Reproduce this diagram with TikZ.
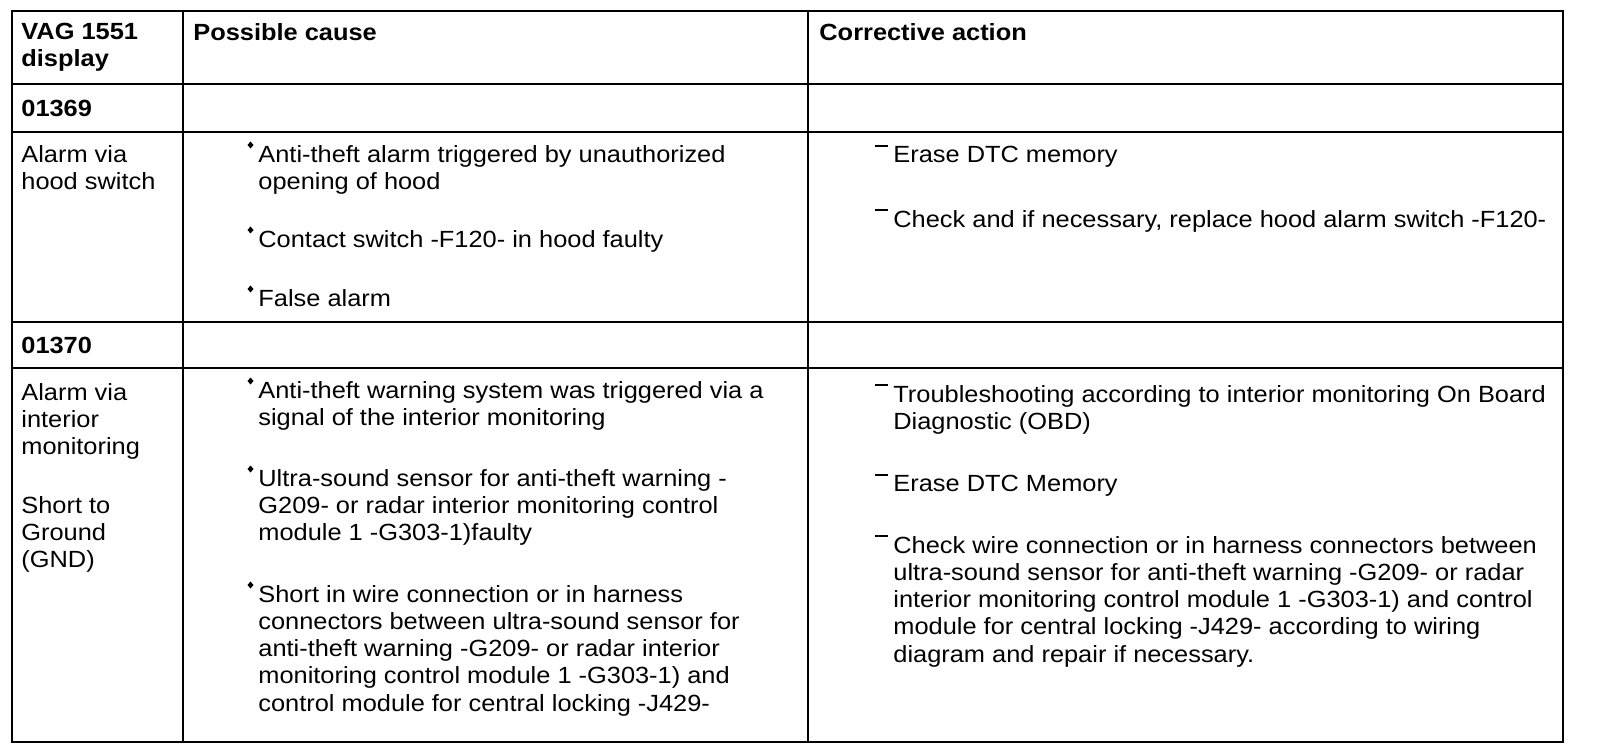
\documentclass[tikz,border=0pt]{standalone}
\usepackage{fontspec}
\setmainfont{Liberation Sans}[FakeStretch=1.085]
\usetikzlibrary{calc}
\tikzset{
  cell/.style={anchor=north west,yshift=8.5pt,inner sep=0pt,align=left,font=\fontsize{11.7pt}{13.6pt}\selectfont},
  head/.style={cell,font=\fontsize{11.7pt}{13.6pt}\selectfont\bfseries},
  rule/.style={line width=1.2pt},
}
\begin{document}
\begin{tikzpicture}[x=0.5pt,y=-0.5pt]
      \useasboundingbox (0,0) rectangle (1600,754);
      % table frame
      \draw[rule] (12,11) rectangle (1563,742);
      \draw[rule] (183,11) -- (183,742) (808,11) -- (808,742);
      \foreach \y in {84,132,322,368}
        \draw[rule] (12,\y) -- (1563,\y);
      % header and codes
      \draw
        (21,40) node[head] (h1){VAG 1551\\display}
        (193,40) node[head] (h2){Possible cause}
        (819,40) node[head] (h3){Corrective action}
        (21,117) node[head] (k1){01369}
        (21,354) node[head] (k2){01370};
      % first code
      \draw
        (21,162) node[cell] (d1){Alarm via\\hood switch}
        (258,162) node[cell] (c1){Anti-theft alarm triggered by unauthorized\\opening of hood}
        (258,247) node[cell] (c2){Contact switch -F120- in hood faulty}
        (258,306) node[cell] (c3){False alarm}
        (893,163) node[cell] (a1){Erase DTC memory}
        (893,227) node[cell] (a2){Check and if necessary, replace hood alarm switch -F120-};
      % second code
      \draw
        (21,400) node[cell] (d2){Alarm via\\interior\\monitoring}
        (21,513) node[cell] (d3){Short to\\Ground\\(GND)}
        (258,398) node[cell] (c4){Anti-theft warning system was triggered via a\\signal of the interior monitoring}
        (258,486) node[cell] (c5){Ultra-sound sensor for anti-theft warning -\\G209- or radar interior monitoring control\\module 1 -G303-1)faulty}
        (258,602) node[cell] (c6){Short in wire connection or in harness\\connectors between ultra-sound sensor for\\anti-theft warning -G209- or radar interior\\monitoring control module 1 -G303-1) and\\control module for central locking -J429-}
        (893,402) node[cell] (a3){Troubleshooting according to interior monitoring On Board\\Diagnostic (OBD)}
        (893,492) node[cell] (a4){Erase DTC Memory}
        (893,553) node[cell] (a5){Check wire connection or in harness connectors between\\ultra-sound sensor for anti-theft warning -G209- or radar\\interior monitoring control module 1 -G303-1) and control\\module for central locking -J429- according to wiring\\diagram and repair if necessary.};
      % bullets and dashes
      \foreach \n in {c1,c2,c3,c4,c5,c6}
        \fill ($(\n.north west)+(-7.5,0)$) +(-3,0) -- +(0,-3.5) -- +(3,0) -- +(0,3.5) -- cycle;
      \foreach \n in {a1,a2,a3,a4,a5}
        \draw[line width=1pt] ($(\n.north west)+(-18,0)$) -- +(13,0);
    \end{tikzpicture}
\end{document}
